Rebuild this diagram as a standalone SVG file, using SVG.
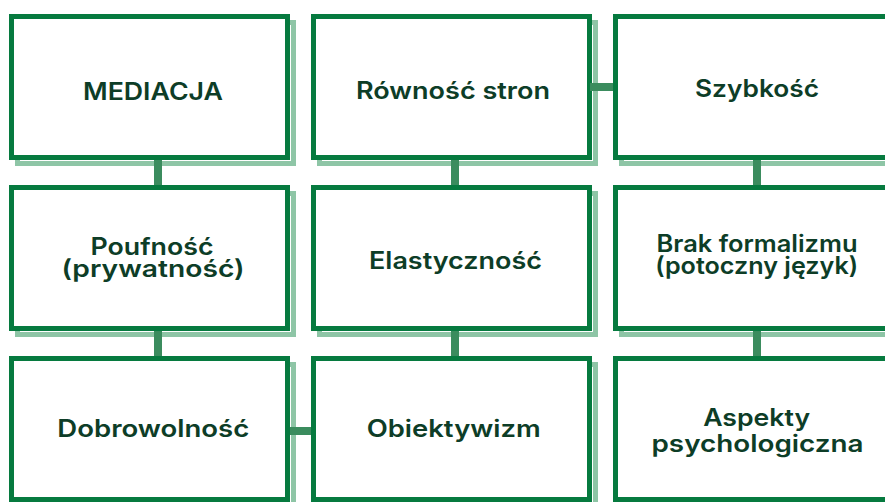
<svg xmlns="http://www.w3.org/2000/svg" width="885" height="502" viewBox="0 0 885 502">
<style>
.sh{fill:none;stroke:#8ec5a6;stroke-width:5}
.bx{fill:#ffffff;stroke:#067a3f;stroke-width:5}
.cn{stroke:#3b8c5e;stroke-width:8;fill:none}
.t{font-family:Inter,"Noto Sans","DejaVu Sans",sans-serif;font-weight:600;font-size:24px;fill:#0d3d27;text-anchor:middle}
</style>
<rect width="885" height="502" fill="#ffffff"/>
<g id="n-mediacja">
<rect class="sh" x="17.5" y="22.5" width="276" height="141"/>
<rect class="bx" x="11.5" y="16.5" width="276" height="141"/>
<text class="t" x="153" y="99.5" font-size="26" font-weight="700" textLength="140" lengthAdjust="spacingAndGlyphs">MEDIACJA</text>
</g>
<g id="n-rownosc">
<rect class="sh" x="319.5" y="22.5" width="276" height="141"/>
<rect class="bx" x="313.5" y="16.5" width="276" height="141"/>
<text class="t" x="453" y="99.3" textLength="194" lengthAdjust="spacingAndGlyphs">Równość stron</text>
</g>
<g id="n-szybkosc">
<rect class="sh" x="621.5" y="22.5" width="276" height="141"/>
<rect class="bx" x="615.5" y="16.5" width="276" height="141"/>
<text class="t" x="757" y="97" textLength="124" lengthAdjust="spacingAndGlyphs">Szybkość</text>
</g>
<g id="n-poufnosc">
<rect class="sh" x="17.5" y="193.5" width="276" height="141"/>
<rect class="bx" x="11.5" y="187.5" width="276" height="141"/>
<text class="t"><tspan x="152" y="254.5" textLength="123" lengthAdjust="spacingAndGlyphs">Poufność</tspan><tspan x="153" y="277.3" textLength="183" lengthAdjust="spacingAndGlyphs">(prywatność)</tspan></text>
</g>
<g id="n-elastycznosc">
<rect class="sh" x="319.5" y="193.5" width="276" height="141"/>
<rect class="bx" x="313.5" y="187.5" width="276" height="141"/>
<text class="t" x="455.5" y="269.3" textLength="173" lengthAdjust="spacingAndGlyphs">Elastyczność</text>
</g>
<g id="n-brak">
<rect class="sh" x="621.5" y="193.5" width="276" height="141"/>
<rect class="bx" x="615.5" y="187.5" width="276" height="141"/>
<text class="t"><tspan x="757" y="251.7" textLength="201" lengthAdjust="spacingAndGlyphs">Brak formalizmu</tspan><tspan x="756.7" y="274.2" textLength="203" lengthAdjust="spacingAndGlyphs">(potoczny język)</tspan></text>
</g>
<g id="n-dobrowolnosc">
<rect class="sh" x="17.5" y="364.5" width="276" height="141"/>
<rect class="bx" x="11.5" y="358.5" width="276" height="141"/>
<text class="t" x="153.3" y="436.7" textLength="192" lengthAdjust="spacingAndGlyphs">Dobrowolność</text>
</g>
<g id="n-obiektywizm">
<rect class="sh" x="319.5" y="364.5" width="276" height="141"/>
<rect class="bx" x="313.5" y="358.5" width="276" height="141"/>
<text class="t" x="453.7" y="436.7" textLength="174" lengthAdjust="spacingAndGlyphs">Obiektywizm</text>
</g>
<g id="n-aspekty">
<rect class="sh" x="621.5" y="364.5" width="276" height="141"/>
<rect class="bx" x="615.5" y="358.5" width="276" height="141"/>
<text class="t"><tspan x="756.7" y="426" textLength="107" lengthAdjust="spacingAndGlyphs">Aspekty</tspan><tspan x="757.5" y="451.7" textLength="212" lengthAdjust="spacingAndGlyphs">psychologiczna</tspan></text>
</g>
<g id="connectors">
<line class="cn" x1="158" y1="160" x2="158" y2="185"/>
<line class="cn" x1="158" y1="331" x2="158" y2="356"/>
<line class="cn" x1="455" y1="160" x2="455" y2="185"/>
<line class="cn" x1="455" y1="331" x2="455" y2="356"/>
<line class="cn" x1="757" y1="160" x2="757" y2="185"/>
<line class="cn" x1="757" y1="331" x2="757" y2="356"/>
<line class="cn" x1="590" y1="87" x2="613" y2="87"/>
<line class="cn" x1="290" y1="431" x2="311" y2="431"/>
</g>
</svg>
